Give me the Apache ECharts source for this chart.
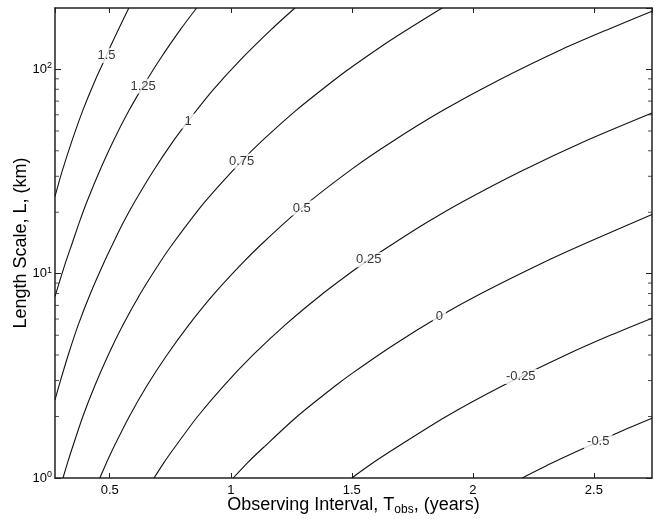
<!DOCTYPE html>
<html>
<head>
<meta charset="utf-8">
<script src="https://cdn.jsdelivr.net/npm/echarts@6/dist/echarts.min.js"></script>
<style>
html, body { margin: 0; padding: 0; background: #fff; }
#chart { width: 654px; height: 519px; }
</style>
</head>
<body>
<div id="chart"></div>
<script>
// axis ranges: observing interval (years), length scale (km)
const tMin = 0.274, tMax = 2.74;
const lMin = 1, lMax = 200;
const yMinorTicks = [2, 3, 4, 5, 6, 7, 8, 9, 20, 30, 40, 50, 60, 70, 80, 90];

// contour levels and their traced lines, [T, L] pairs
const levels = ['1.5', '1.25', '1', '0.75', '0.5', '0.25', '0', '-0.25', '-0.5'];
const c150 = [[0.274, 23.9], [0.303, 31.6], [0.344, 44.7], [0.389, 63.1], [0.441, 89.1], [0.487, 117], [0.498, 126], [0.537, 158], [0.579, 200]];
const c125 = [[0.274, 7.75], [0.316, 11.2], [0.345, 14.1], [0.374, 17.8], [0.405, 22.4], [0.457, 31.6], [0.515, 44.7], [0.580, 63.1], [0.638, 82.9], [0.707, 112], [0.794, 158], [0.859, 200]];
const c100 = [[0.274, 2.41], [0.290, 2.82], [0.328, 3.98], [0.370, 5.62], [0.419, 7.94], [0.474, 11.2], [0.514, 14.1], [0.556, 17.8], [0.602, 22.4], [0.678, 31.6], [0.763, 44.7], [0.824, 55.9], [0.927, 79.4], [1.042, 112], [1.170, 158], [1.265, 200]];
const c075 = [[0.307, 1.0], [0.326, 1.19], [0.346, 1.41], [0.389, 2.0], [0.438, 2.82], [0.493, 3.98], [0.555, 5.62], [0.625, 7.94], [0.704, 11.2], [0.762, 14.1], [0.892, 22.4], [1.045, 35.6], [1.129, 44.7], [1.270, 63.1], [1.429, 89.1], [1.507, 104.3], [1.668, 141], [1.873, 200]];
const c050 = [[0.459, 1.0], [0.487, 1.19], [0.516, 1.41], [0.581, 2.0], [0.653, 2.82], [0.735, 3.98], [0.827, 5.62], [0.930, 7.94], [1.046, 11.2], [1.131, 14.1], [1.293, 21.0], [1.507, 33.0], [1.671, 44.7], [1.877, 63.1], [2.110, 89.1], [2.371, 126], [2.563, 158], [2.74, 193]];
const c025 = [[0.683, 1.0], [0.724, 1.19], [0.768, 1.41], [0.863, 2.0], [0.970, 2.82], [1.090, 3.98], [1.225, 5.62], [1.377, 7.94], [1.507, 10.37], [1.570, 11.71], [1.674, 14.1], [1.809, 17.8], [1.954, 22.4], [2.195, 31.6], [2.465, 44.7], [2.74, 61.3]];
const c000 = [[1.010, 1.0], [1.070, 1.19], [1.135, 1.41], [1.274, 2.0], [1.431, 2.82], [1.507, 3.29], [1.671, 4.47], [1.862, 6.18], [2.028, 7.94], [2.281, 11.2], [2.466, 14.1], [2.74, 19.5]];
const cm025 = [[1.500, 1.0], [1.589, 1.19], [1.684, 1.41], [1.890, 2.0], [2.121, 2.82], [2.380, 3.98], [2.570, 5.01], [2.74, 6.06]];
const cm050 = [[2.204, 1.0], [2.331, 1.19], [2.465, 1.41], [2.606, 1.68], [2.74, 1.96]];
const contours = [c150, c125, c100, c075, c050, c025, c000, cm025, cm050];

// where each level's label sits on its line
const labelT = [0.4865, 0.638, 0.824, 1.045, 1.293, 1.570, 1.862, 2.198, 2.518];
const labelL = [117, 82.9, 55.9, 35.6, 21.0, 11.71, 6.18, 3.14, 1.51];

const ink = '#000';
const font = 'Liberation Sans, Arial, sans-serif';

const chart = echarts.init(document.getElementById('chart'));

const lineSeries = contours.map((pts, i) => ({
  type: 'line',
  name: levels[i],
  data: pts,
  showSymbol: false,
  smooth: 0.25,
  silent: true,
  lineStyle: { color: '#111', width: 1.1 },
  z: 2
}));

const labelSeries = {
  type: 'scatter',
  data: levels.map((lv, i) => [labelT[i], labelL[i], lv]),
  symbolSize: 1,
  silent: true,
  itemStyle: { color: 'rgba(0,0,0,0)' },
  label: {
    show: true,
    position: 'inside',
    formatter: p => p.data[2],
    color: ink,
    fontSize: 13,
    fontFamily: font,
    backgroundColor: '#fff',
    padding: [1, 3]
  },
  z: 5
};

function minorTicks(t, off) {
  return {
    type: 'scatter',
    data: yMinorTicks.map(v => [t, v]),
    symbol: 'rect',
    symbolSize: [4, 1],
    symbolOffset: [off, 0],
    clip: false,
    silent: true,
    itemStyle: { color: '#222' },
    z: 6
  };
}

function yLabel(v) {
  const e = Math.round(Math.log10(v));
  if (Math.abs(Math.pow(10, e) - v) > 1e-6) return '';
  return '{b|10}{s|' + e + '}';
}

const axisLine = { show: true, lineStyle: { color: '#222', width: 1.5 } };
const axisTick = { show: true, inside: true, length: 5, lineStyle: { color: '#222' } };

chart.setOption({
  animation: false,
  grid: { left: 55, right: 2, top: 8, bottom: 41, outerBoundsMode: 'none', containLabel: false },
  xAxis: [
    {
      type: 'value',
      min: tMin,
      max: tMax,
      position: 'bottom',
      axisLine: axisLine,
      axisTick: axisTick,
      splitLine: { show: false },
      axisLabel: {
        margin: 6,
        color: ink,
        fontSize: 13,
        fontFamily: font,
        showMinLabel: false,
        showMaxLabel: false
      },
      name: '{n|Observing Interval, T}{sub|obs}{n|, (years)}',
      nameLocation: 'middle',
      nameGap: 16,
      nameMoveOverlap: false,
      nameTextStyle: {
        rich: {
          n: { fontSize: 18, fontFamily: font, color: ink, lineHeight: 22 },
          sub: { fontSize: 12, fontFamily: font, color: ink, lineHeight: 4, verticalAlign: 'bottom' }
        }
      }
    },
    {
      type: 'value',
      min: tMin,
      max: tMax,
      position: 'top',
      axisLine: axisLine,
      axisTick: axisTick,
      axisLabel: { show: false },
      splitLine: { show: false }
    }
  ],
  yAxis: [
    {
      type: 'log',
      logBase: 10,
      min: lMin,
      max: lMax,
      position: 'left',
      axisLine: axisLine,
      axisTick: Object.assign({}, axisTick, { length: 6 }),
      splitLine: { show: false },
      axisLabel: {
        margin: 3,
        formatter: yLabel,
        showMaxLabel: false,
        rich: {
          b: { fontSize: 13, fontFamily: font, color: ink, lineHeight: 16 },
          s: { fontSize: 9, fontFamily: font, color: ink, lineHeight: 9, verticalAlign: 'top' }
        }
      },
      name: 'Length Scale, L, (km)',
      nameLocation: 'middle',
      nameGap: 25,
      nameMoveOverlap: false,
      nameTextStyle: { fontSize: 18, fontFamily: font, color: ink }
    },
    {
      type: 'log',
      logBase: 10,
      min: lMin,
      max: lMax,
      position: 'right',
      axisLine: axisLine,
      axisTick: Object.assign({}, axisTick, { length: 6 }),
      axisLabel: { show: false },
      splitLine: { show: false }
    }
  ],
  series: lineSeries.concat([labelSeries, minorTicks(tMin, 2), minorTicks(tMax, -2)])
});
</script>
</body>
</html>
